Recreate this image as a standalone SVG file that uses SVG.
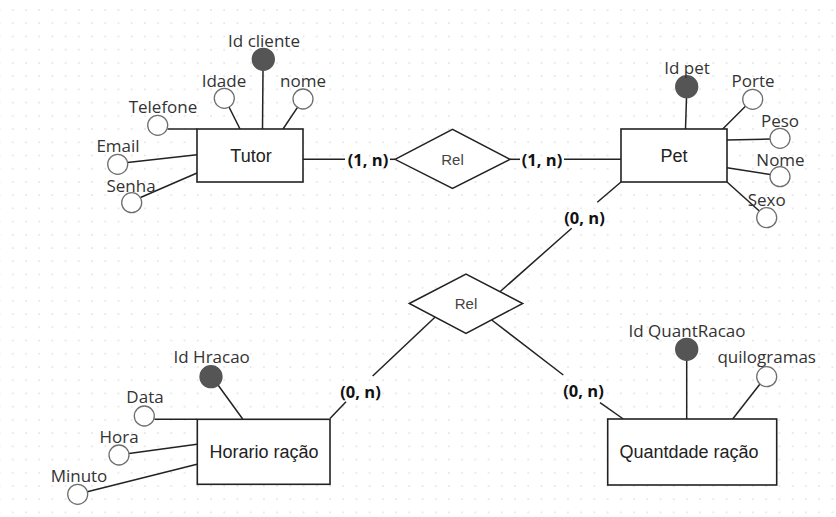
<svg xmlns="http://www.w3.org/2000/svg" width="836" height="517" viewBox="0 0 836 517">
<defs>
<pattern id="grid" x="6.09" y="3.39" width="13.22" height="13.22" patternUnits="userSpaceOnUse">
<circle cx="6.61" cy="6.61" r="0.8" fill="#d4d4d4"/>
</pattern>
<style>
.ent{fill:#fff;stroke:#222;stroke-width:1.6}
.rel{fill:#fff;stroke:#222;stroke-width:1.5}
.att{fill:#fff;stroke:#6f6f6f;stroke-width:1.3}
.key{fill:#555;stroke:#555;stroke-width:1.3}
.ln{stroke:#222;stroke-width:1.5;fill:none}
.etxt{font-family:"Liberation Sans",Arial,sans-serif;font-size:18px;fill:#222;text-anchor:middle}
.atxt{font-family:"Open Sans","Noto Sans",sans-serif;font-size:17px;fill:#333;text-anchor:middle}
.rtxt{font-family:"Liberation Sans",Arial,sans-serif;font-size:15px;fill:#444;text-anchor:middle}
.card{font-family:"Open Sans","Noto Sans",sans-serif;font-size:16.5px;font-weight:bold;fill:#111;text-anchor:middle}
</style>
</defs>
<rect width="836" height="517" fill="#fff"/>
<rect width="836" height="517" fill="url(#grid)"/>

<g id="connectors">
<!-- Tutor attributes -->
<line class="ln" x1="263" y1="70.5" x2="262.5" y2="129"/>
<line class="ln" x1="229" y1="107" x2="240" y2="129"/>
<line class="ln" x1="297.5" y1="107.3" x2="283" y2="129"/>
<line class="ln" x1="167.5" y1="129" x2="197" y2="129"/>
<line class="ln" x1="127.5" y1="162.5" x2="197" y2="154.7"/>
<line class="ln" x1="140.5" y1="197.5" x2="197" y2="173"/>
<!-- Pet attributes -->
<line class="ln" x1="686.5" y1="97.7" x2="685.5" y2="129"/>
<line class="ln" x1="722.7" y1="129" x2="745.5" y2="106.3"/>
<line class="ln" x1="727" y1="140" x2="770" y2="139"/>
<line class="ln" x1="727" y1="167.7" x2="770.2" y2="174.5"/>
<line class="ln" x1="727" y1="182" x2="759.3" y2="211"/>
<!-- Horario attributes -->
<line class="ln" x1="218" y1="385" x2="242.7" y2="419"/>
<line class="ln" x1="154.3" y1="419.3" x2="197" y2="419.3"/>
<line class="ln" x1="129" y1="453.5" x2="197" y2="444.3"/>
<line class="ln" x1="87.3" y1="491.7" x2="197" y2="464.3"/>
<!-- Quantdade attributes -->
<line class="ln" x1="686.7" y1="360.3" x2="686.7" y2="419"/>
<line class="ln" x1="760" y1="384" x2="732.7" y2="419"/>
<!-- Relationship lines -->
<line class="ln" x1="303" y1="159.3" x2="345" y2="159.3"/>
<line class="ln" x1="390" y1="159.3" x2="395" y2="159.3"/>
<line class="ln" x1="510" y1="159.3" x2="520" y2="159.3"/>
<line class="ln" x1="564" y1="159.3" x2="621" y2="159.3"/>
<line class="ln" x1="621" y1="182" x2="597.3" y2="202.3"/>
<line class="ln" x1="571.7" y1="228.3" x2="500" y2="291.7"/>
<line class="ln" x1="436" y1="316.3" x2="372.7" y2="376"/>
<line class="ln" x1="346" y1="401.7" x2="330" y2="418.5"/>
<line class="ln" x1="491.7" y1="320" x2="563.3" y2="375"/>
<line class="ln" x1="600" y1="402.7" x2="623.3" y2="419"/>
</g>

<g id="tutor">
<rect class="ent" x="197" y="129" width="106" height="53"/>
<text class="etxt" x="251" y="161.7">Tutor</text>
</g>
<g id="tutor-idcliente">
<circle class="key" cx="263.3" cy="59.3" r="11"/>
<text class="atxt" x="264" y="47">Id cliente</text>
</g>
<g id="tutor-idade">
<circle class="att" cx="224.3" cy="98.3" r="10"/>
<text class="atxt" x="224" y="86.5">Idade</text>
</g>
<g id="tutor-nome">
<circle class="att" cx="303" cy="99" r="10"/>
<text class="atxt" x="303" y="86.5">nome</text>
</g>
<g id="tutor-telefone">
<circle class="att" cx="157.7" cy="125.3" r="10"/>
<text class="atxt" x="163" y="113">Telefone</text>
</g>
<g id="tutor-email">
<circle class="att" cx="117.7" cy="164.3" r="10"/>
<text class="atxt" x="118" y="152">Email</text>
</g>
<g id="tutor-senha">
<circle class="att" cx="131.7" cy="202.7" r="10"/>
<text class="atxt" x="131" y="191.5">Senha</text>
</g>

<g id="rel1">
<polygon class="rel" points="395,159.3 452.5,129.3 510,159.3 452.5,188.3"/>
<text class="rtxt" x="452.5" y="165">Rel</text>
</g>
<g id="card1">
<text class="card" x="368" y="165.5">(1, n)</text>
</g>
<g id="card2">
<text class="card" x="542" y="165.5">(1, n)</text>
</g>

<g id="pet">
<rect class="ent" x="621" y="129" width="106" height="53"/>
<text class="etxt" x="674" y="161.7">Pet</text>
</g>
<g id="pet-idpet">
<circle class="key" cx="686.7" cy="86.7" r="11"/>
<text class="atxt" x="687" y="74.3">Id pet</text>
</g>
<g id="pet-porte">
<circle class="att" cx="752.7" cy="99.3" r="10"/>
<text class="atxt" x="753" y="86.7">Porte</text>
</g>
<g id="pet-peso">
<circle class="att" cx="780" cy="138.3" r="10"/>
<text class="atxt" x="780" y="126.7">Peso</text>
</g>
<g id="pet-nome">
<circle class="att" cx="780" cy="176.7" r="10"/>
<text class="atxt" x="780.5" y="165.7">Nome</text>
</g>
<g id="pet-sexo">
<circle class="att" cx="766.7" cy="217.7" r="10"/>
<text class="atxt" x="766.7" y="205.7">Sexo</text>
</g>

<g id="rel2">
<polygon class="rel" points="409.3,303.5 466,274 522.7,303.5 466,333.3"/>
<text class="rtxt" x="466" y="309">Rel</text>
</g>
<g id="card3">
<text class="card" x="584.5" y="224">(0, n)</text>
</g>
<g id="card4">
<text class="card" x="360.5" y="398.3">(0, n)</text>
</g>
<g id="card5">
<text class="card" x="583.5" y="397.3">(0, n)</text>
</g>

<g id="horario">
<rect class="ent" x="197.3" y="419.3" width="132.7" height="65"/>
<text class="etxt" x="264" y="458">Horario ração</text>
</g>
<g id="horario-id">
<circle class="key" cx="211" cy="376.7" r="11"/>
<text class="atxt" x="211.7" y="363.3">Id Hracao</text>
</g>
<g id="horario-data">
<circle class="att" cx="144.3" cy="416" r="10"/>
<text class="atxt" x="145" y="403.3">Data</text>
</g>
<g id="horario-hora">
<circle class="att" cx="119" cy="455" r="10"/>
<text class="atxt" x="119" y="443.3">Hora</text>
</g>
<g id="horario-minuto">
<circle class="att" cx="77.7" cy="494.3" r="10"/>
<text class="atxt" x="79" y="481.7">Minuto</text>
</g>

<g id="quantidade">
<rect class="ent" x="607.7" y="419" width="169" height="66"/>
<text class="etxt" x="689" y="458.3">Quantdade ração</text>
</g>
<g id="quantidade-id">
<circle class="key" cx="686.7" cy="349.3" r="11"/>
<text class="atxt" x="687" y="336.7">Id QuantRacao</text>
</g>
<g id="quantidade-kg">
<circle class="att" cx="766.7" cy="376.7" r="10"/>
<text class="atxt" x="766.7" y="363.3">quilogramas</text>
</g>
</svg>
